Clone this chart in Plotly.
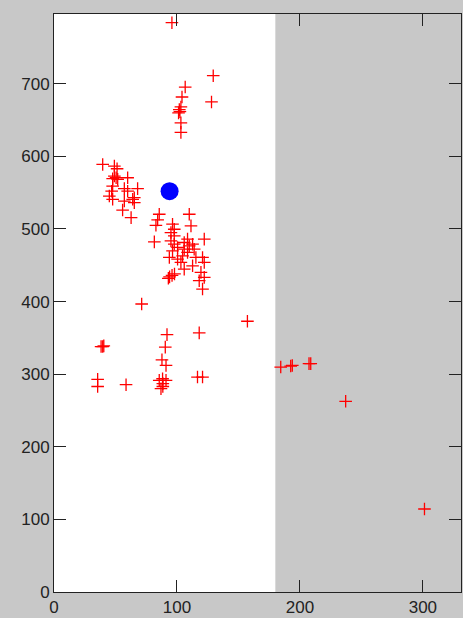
import plotly.graph_objects as go

# red "+" points (x, y)
pts_x = [
    95.9, 129.5, 128.1, 106.7, 104.1, 103.2, 101.9, 102.4, 101.3, 103.2, 103.2,
    39.6, 49.1, 51.3, 49.1, 50.5, 47.7, 51.8, 59.9, 47.7, 57.2, 68.0, 46.9, 59.9,
    45.0, 65.3, 64.0, 47.7, 65.3, 57.2, 55.8, 62.7,
    85.6, 84.3, 82.9, 81.6, 110.0, 111.4, 122.2,
    96.4, 97.8, 95.1, 97.8, 95.1, 97.8, 100.5, 96.4, 105.9, 108.6, 110.0, 112.7,
    105.9, 108.6, 104.6, 93.8, 100.5, 114.0, 115.4, 103.2, 105.9, 112.7, 120.8,
    122.2, 119.5, 122.2, 118.1, 120.8, 94.0, 96.0, 98.0, 93.0,
    71.3, 157.3, 91.9, 118.1, 38.3, 39.6, 40.5, 90.5, 87.8, 91.1,
    35.5, 35.5, 58.6, 85.6, 88.3, 91.1, 87.0, 88.5, 88.5, 116.7, 120.8,
    184.4, 192.5, 193.8, 207.4, 208.8, 237.2, 301.3,
]
pts_y = [
    784, 711, 674.9, 695.4, 681.7, 668, 664.3, 661.5, 659.8, 646, 633,
    588.8, 586.5, 582.9, 572.8, 570.5, 569.2, 568.2, 570.5, 559, 555.5, 555.5, 552, 552,
    545.3, 543, 540.8, 540.8, 536.2, 538.4, 526, 515.6,
    520.2, 512.4, 505, 482.2, 520.2, 504.2, 485.9,
    506.5, 499.6, 495, 490.4, 483.6, 479, 474.5, 469.8, 481.3, 485.9, 476.7, 479,
    472.1, 467.6, 463, 460.7, 458.4, 472.1, 460.7, 453.9, 444.7, 449.2, 460.7,
    453.9, 440.2, 433.3, 428.7, 417.2, 434, 436, 438, 432,
    396.6, 372.9, 354.5, 356.8, 338, 338, 339, 337.2, 319.8, 312,
    292.8, 283, 285.5, 291.4, 293.7, 291.4, 280, 287, 283, 296, 296,
    309.8, 311.2, 312, 314.5, 314.5, 262.6, 114.3,
]

# blue reference point
dot_x = [94.0]
dot_y = [552.0]

# axis settings / tick labels
x_ticks = [0, 100, 200, 300]
y_ticks = [0, 100, 200, 300, 400, 500, 600, 700]
x_range = [0, 331]
y_range = [0, 796]
white_band = [0, 180]

fig = go.Figure()
fig.add_trace(go.Scatter(
    x=pts_x, y=pts_y, mode="markers",
    marker=dict(symbol="cross-thin", size=9, line=dict(color="#ff0000", width=1.3), color="#ff0000"),
    showlegend=False, hoverinfo="skip",
))
fig.add_trace(go.Scatter(
    x=dot_x, y=dot_y, mode="markers",
    marker=dict(symbol="circle", size=18, color="#0000ff", line=dict(width=0)),
    showlegend=False, hoverinfo="skip",
))

fig.add_shape(type="rect", xref="x", yref="paper", x0=white_band[0], x1=white_band[1],
              y0=0, y1=1, fillcolor="white", line=dict(width=0), layer="below")

axis_common = dict(
    showgrid=False, zeroline=False, showline=True, mirror="ticks",
    linecolor="#222222", linewidth=1, ticks="inside", ticklen=12,
    tickcolor="#222222", tickwidth=1,
    tickfont=dict(family="Liberation Sans, Arial, sans-serif", size=17, color="#222222"),
)

fig.update_layout(
    width=463, height=618,
    margin=dict(l=54, r=1, t=14, b=24),
    paper_bgcolor="#c8c8c8", plot_bgcolor="#c8c8c8",
    xaxis=dict(range=x_range, tickvals=x_ticks, **axis_common),
    yaxis=dict(range=y_range, tickvals=y_ticks, **axis_common),
)

fig.write_html("out.html")
